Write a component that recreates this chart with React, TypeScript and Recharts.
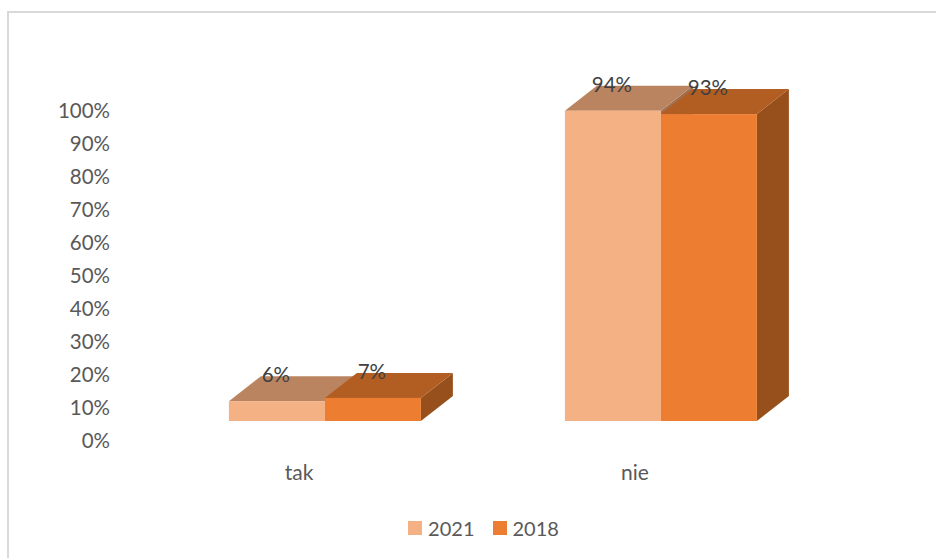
import { Bar, BarChart, LabelList, Legend, XAxis, YAxis } from 'recharts';

const categories = ['tak', 'nie'];
const values2021 = [6, 94];
const values2018 = [7, 93];
const yTicks = [0, 10, 20, 30, 40, 50, 60, 70, 80, 90, 100];

const FONT = 'Lato, sans-serif';
// Excel-style 3D: the bars sit above the axis floor and have a receding depth
const LIFT = 20;
const DX = 32;
const DY = 25;

const PALETTE: Record<string, { front: string; top: string; side: string }> = {
  '2021': { front: '#F4B183', top: '#BA8461', side: '#A06F50' },
  '2018': { front: '#ED7D31', top: '#B25E23', side: '#97501C' },
};

const chartData = categories.map((name, i) => ({
  name,
  '2021': values2021[i],
  '2018': values2018[i],
}));

const Box3D = (props: any) => {
  const { x, y, width, height, dataKey } = props;
  const c = PALETTE[dataKey];
  const top = y - LIFT;
  const r = x + width;
  const b = top + height;
  return (
    <g>
      <polygon points={`${r},${top} ${r + DX},${top - DY} ${r + DX},${b - DY} ${r},${b}`} fill={c.side} />
      <polygon points={`${x},${top} ${r},${top} ${r + DX},${top - DY} ${x + DX},${top - DY}`} fill={c.top} />
      <rect x={x} y={top} width={width} height={height} fill={c.front} />
    </g>
  );
};

const renderLabel = (props: any) => {
  const { x, y, width, value } = props;
  return (
    <text
      x={x + width / 2 - 1}
      y={y - LIFT - DY - 2}
      textAnchor="middle"
      dominantBaseline="central"
      fontSize={20.5}
      fontFamily={FONT}
      fill="#404040"
    >
      {`${value}%`}
    </text>
  );
};

const renderLegend = (props: any) => (
  <div style={{ display: 'flex', justifyContent: 'center', fontFamily: FONT, fontSize: 20, color: '#595959', lineHeight: '24px' }}>
    {props.payload.map((entry: any, i: number) => (
      <div key={entry.value} style={{ display: 'flex', alignItems: 'center', marginLeft: i ? 18 : 0 }}>
        <span style={{ width: 14, height: 14, background: PALETTE[entry.value].front, marginRight: 6 }} />
        {entry.value}
      </div>
    ))}
  </div>
);

export default function App() {
  return (
    <div style={{ position: 'absolute', left: 0, top: 0, width: 936, height: 558, background: '#fff', overflow: 'hidden' }}>
      <div
        style={{
          position: 'absolute',
          left: 7,
          top: 11,
          width: 940,
          height: 560,
          borderLeft: '2px solid #D9D9D9',
          borderTop: '2px solid #D9D9D9',
        }}
      />
      <BarChart
        width={936}
        height={558}
        data={chartData}
        margin={{ top: 111, right: 107, bottom: 33, left: 57 }}
        barCategoryGap="21.4%"
        barGap={0}
        style={{ position: 'absolute', left: 0, top: 0 }}
      >
        <XAxis
          dataKey="name"
          axisLine={false}
          tickLine={false}
          tickSize={0}
          tickMargin={24}
          tick={{ fontSize: 21, fontFamily: FONT, fill: '#595959', dx: -26 }}
          height={60}
        />
        <YAxis
          width={100}
          domain={[0, 100]}
          ticks={yTicks}
          interval={0}
          axisLine={false}
          tickLine={false}
          tickSize={0}
          tickMargin={47}
          tickFormatter={(v: number) => `${v}%`}
          tick={{ fontSize: 20.5, fontFamily: FONT, fill: '#595959' }}
        />
        <Legend
          content={renderLegend}
          itemSorter={null}
          verticalAlign="bottom"
          wrapperStyle={{ left: 0, width: 967, bottom: 18 }}
        />
        <Bar dataKey="2021" isAnimationActive={false} fill="#F4B183" shape={Box3D}>
          <LabelList dataKey="2021" content={renderLabel} />
        </Bar>
        <Bar dataKey="2018" isAnimationActive={false} fill="#ED7D31" shape={Box3D}>
          <LabelList dataKey="2018" content={renderLabel} />
        </Bar>
      </BarChart>
    </div>
  );
}
